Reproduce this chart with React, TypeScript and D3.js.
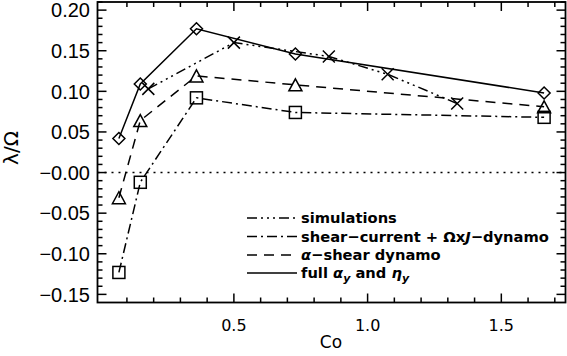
import React from "react";
import { scaleLinear, line, range } from "d3";

// Co values of the model curves
const co = [0.07, 0.15, 0.36, 0.73, 1.66];
const fullAlphaEta = [0.042, 0.109, 0.177, 0.146, 0.098];
const alphaShear = [-0.031, 0.064, 0.119, 0.108, 0.081];
const shearCurrent = [-0.123, -0.012, 0.092, 0.074, 0.068];

// simulation points
const simCo = [0.18, 0.5, 0.855, 1.075, 1.335];
const simulations = [0.103, 0.16, 0.143, 0.121, 0.085];

const xTicks = [0.5, 1.0, 1.5];
const xTickLabels = ["0.5", "1.0", "1.5"];
const yTicks = [-0.15, -0.1, -0.05, 0, 0.05, 0.1, 0.15, 0.2];
const yTickLabels = ["\u22120.15", "\u22120.10", "\u22120.05", "\u22120.00", "0.05", "0.10", "0.15", "0.20"];

const W = 567;
const H = 356;
const left = 97.5, right = 565.5, top = 2, bottom = 302.5;

const DASH_SIM = "10,4,2,4,2,4,2,4";
const DASH_SC = "10,4,2,4";
const DASH_AS = "10,7";

type Pt = [number, number];

function Marker({ kind, cx, cy }: { kind: string; cx: number; cy: number }) {
  const s = 6;
  const st = { fill: "none", stroke: "#000", strokeWidth: 1.5 };
  if (kind === "diamond")
    return <path d={`M${cx},${cy - s}L${cx + s},${cy}L${cx},${cy + s}L${cx - s},${cy}Z`} {...st} />;
  if (kind === "square")
    return <rect x={cx - s} y={cy - s} width={2 * s} height={2 * s} {...st} />;
  if (kind === "triangle")
    return <path d={`M${cx},${cy - s}L${cx + s + 0.5},${cy + s}L${cx - s - 0.5},${cy + s}Z`} {...st} />;
  return <path d={`M${cx - s},${cy - s}L${cx + s},${cy + s}M${cx + s},${cy - s}L${cx - s},${cy + s}`} {...st} />;
}

export default function App() {
  const x = scaleLinear().domain([-0.01, 1.74]).range([left, right]);
  const y = scaleLinear().domain([-0.16, 0.21]).range([bottom, top]);
  const path = line<Pt>().x(d => x(d[0])).y(d => y(d[1]));

  const series = [
    { xs: co, ys: fullAlphaEta, dash: undefined, marker: "diamond" },
    { xs: co, ys: alphaShear, dash: DASH_AS, marker: "triangle" },
    { xs: co, ys: shearCurrent, dash: DASH_SC, marker: "square" },
    { xs: simCo, ys: simulations, dash: DASH_SIM, marker: "x" },
  ];

  const xMinor = range(0.1, 1.74, 0.1).filter(v => xTicks.every(t => Math.abs(t - v) > 1e-6));
  const yMinor = range(-0.15, 0.2101, 0.01).filter(v => yTicks.every(t => Math.abs(t - v) > 1e-6));

  const legend = [
    { dash: DASH_SIM, label: <tspan>simulations</tspan> },
    {
      dash: DASH_SC,
      label: (
        <tspan>
          shear{"\u2212"}current + {"\u03A9"}x<tspan fontStyle="italic">J</tspan>{"\u2212"}dynamo
        </tspan>
      ),
    },
    {
      dash: DASH_AS,
      label: (
        <tspan>
          <tspan fontStyle="italic">{"\u03B1"}</tspan>{"\u2212"}shear dynamo
        </tspan>
      ),
    },
    {
      dash: undefined,
      label: (
        <tspan>
          full <tspan fontStyle="italic">{"\u03B1"}</tspan>
          <tspan fontStyle="italic" fontSize={11} dy={4}>y</tspan>
          <tspan dy={-4}> and </tspan>
          <tspan fontStyle="italic">{"\u03B7"}</tspan>
          <tspan fontStyle="italic" fontSize={11} dy={4}>y</tspan>
        </tspan>
      ),
    },
  ];
  const legendY = [218, 236.5, 255, 273];

  return (
    <svg width={W} height={H} style={{ position: "absolute", left: 0, top: 0, background: "#fff" }}>
      {/* zero line */}
      <line x1={left} x2={right} y1={y(0)} y2={y(0)} stroke="#000" strokeWidth={1.5} strokeDasharray="2,5" />

      {series.map((s, i) => {
        const pts: Pt[] = s.xs.map((v, j) => [v, s.ys[j]]);
        return (
          <g key={i}>
            <path d={path(pts) || ""} fill="none" stroke="#000" strokeWidth={1.5} strokeDasharray={s.dash} />
            {pts.map((p, j) => (
              <Marker key={j} kind={s.marker} cx={x(p[0])} cy={y(p[1])} />
            ))}
          </g>
        );
      })}

      {/* frame */}
      <rect x={left} y={top} width={right - left} height={bottom - top} fill="none" stroke="#000" strokeWidth={1.8} />

      {/* x ticks */}
      {xTicks.map(t => (
        <g key={"xt" + t}>
          <line x1={x(t)} x2={x(t)} y1={bottom} y2={bottom - 9} stroke="#000" strokeWidth={1.5} />
          <line x1={x(t)} x2={x(t)} y1={top} y2={top + 9} stroke="#000" strokeWidth={1.5} />
        </g>
      ))}
      {xMinor.map(t => (
        <g key={"xm" + t}>
          <line x1={x(t)} x2={x(t)} y1={bottom} y2={bottom - 5} stroke="#000" strokeWidth={1.5} />
          <line x1={x(t)} x2={x(t)} y1={top} y2={top + 5} stroke="#000" strokeWidth={1.5} />
        </g>
      ))}
      {/* y ticks */}
      {yTicks.map(t => (
        <g key={"yt" + t}>
          <line x1={left} x2={left + 9} y1={y(t)} y2={y(t)} stroke="#000" strokeWidth={1.5} />
          <line x1={right} x2={right - 9} y1={y(t)} y2={y(t)} stroke="#000" strokeWidth={1.5} />
        </g>
      ))}
      {yMinor.map(t => (
        <g key={"ym" + t}>
          <line x1={left} x2={left + 5} y1={y(t)} y2={y(t)} stroke="#000" strokeWidth={1.5} />
          <line x1={right} x2={right - 5} y1={y(t)} y2={y(t)} stroke="#000" strokeWidth={1.5} />
        </g>
      ))}

      {/* tick labels */}
      {yTicks.map((t, i) => (
        <text key={"yl" + t} x={90} y={y(t) + 7.2} textAnchor="end" fontFamily="Liberation Sans" fontSize={20}>
          {yTickLabels[i]}
        </text>
      ))}
      {xTicks.map((t, i) => (
        <text key={"xl" + t} x={x(t)} y={331} textAnchor="middle" fontFamily="DejaVu Sans" fontSize={16}>
          {xTickLabels[i]}
        </text>
      ))}

      {/* axis titles */}
      <text x={331} y={348} textAnchor="middle" fontFamily="DejaVu Sans" fontSize={17}>Co</text>
      <text transform="translate(18,148) rotate(-90)" textAnchor="middle" fontFamily="DejaVu Sans" fontSize={20}>
        {"\u03BB/\u03A9"}
      </text>

      {/* legend */}
      {legend.map((l, i) => (
        <g key={"lg" + i}>
          <line x1={247} x2={297} y1={legendY[i]} y2={legendY[i]} stroke="#000" strokeWidth={1.5} strokeDasharray={l.dash} />
          <text x={301} y={legendY[i] + 5} fontFamily="DejaVu Sans" fontWeight="bold" fontSize={14.7}>
            {l.label}
          </text>
        </g>
      ))}
    </svg>
  );
}
